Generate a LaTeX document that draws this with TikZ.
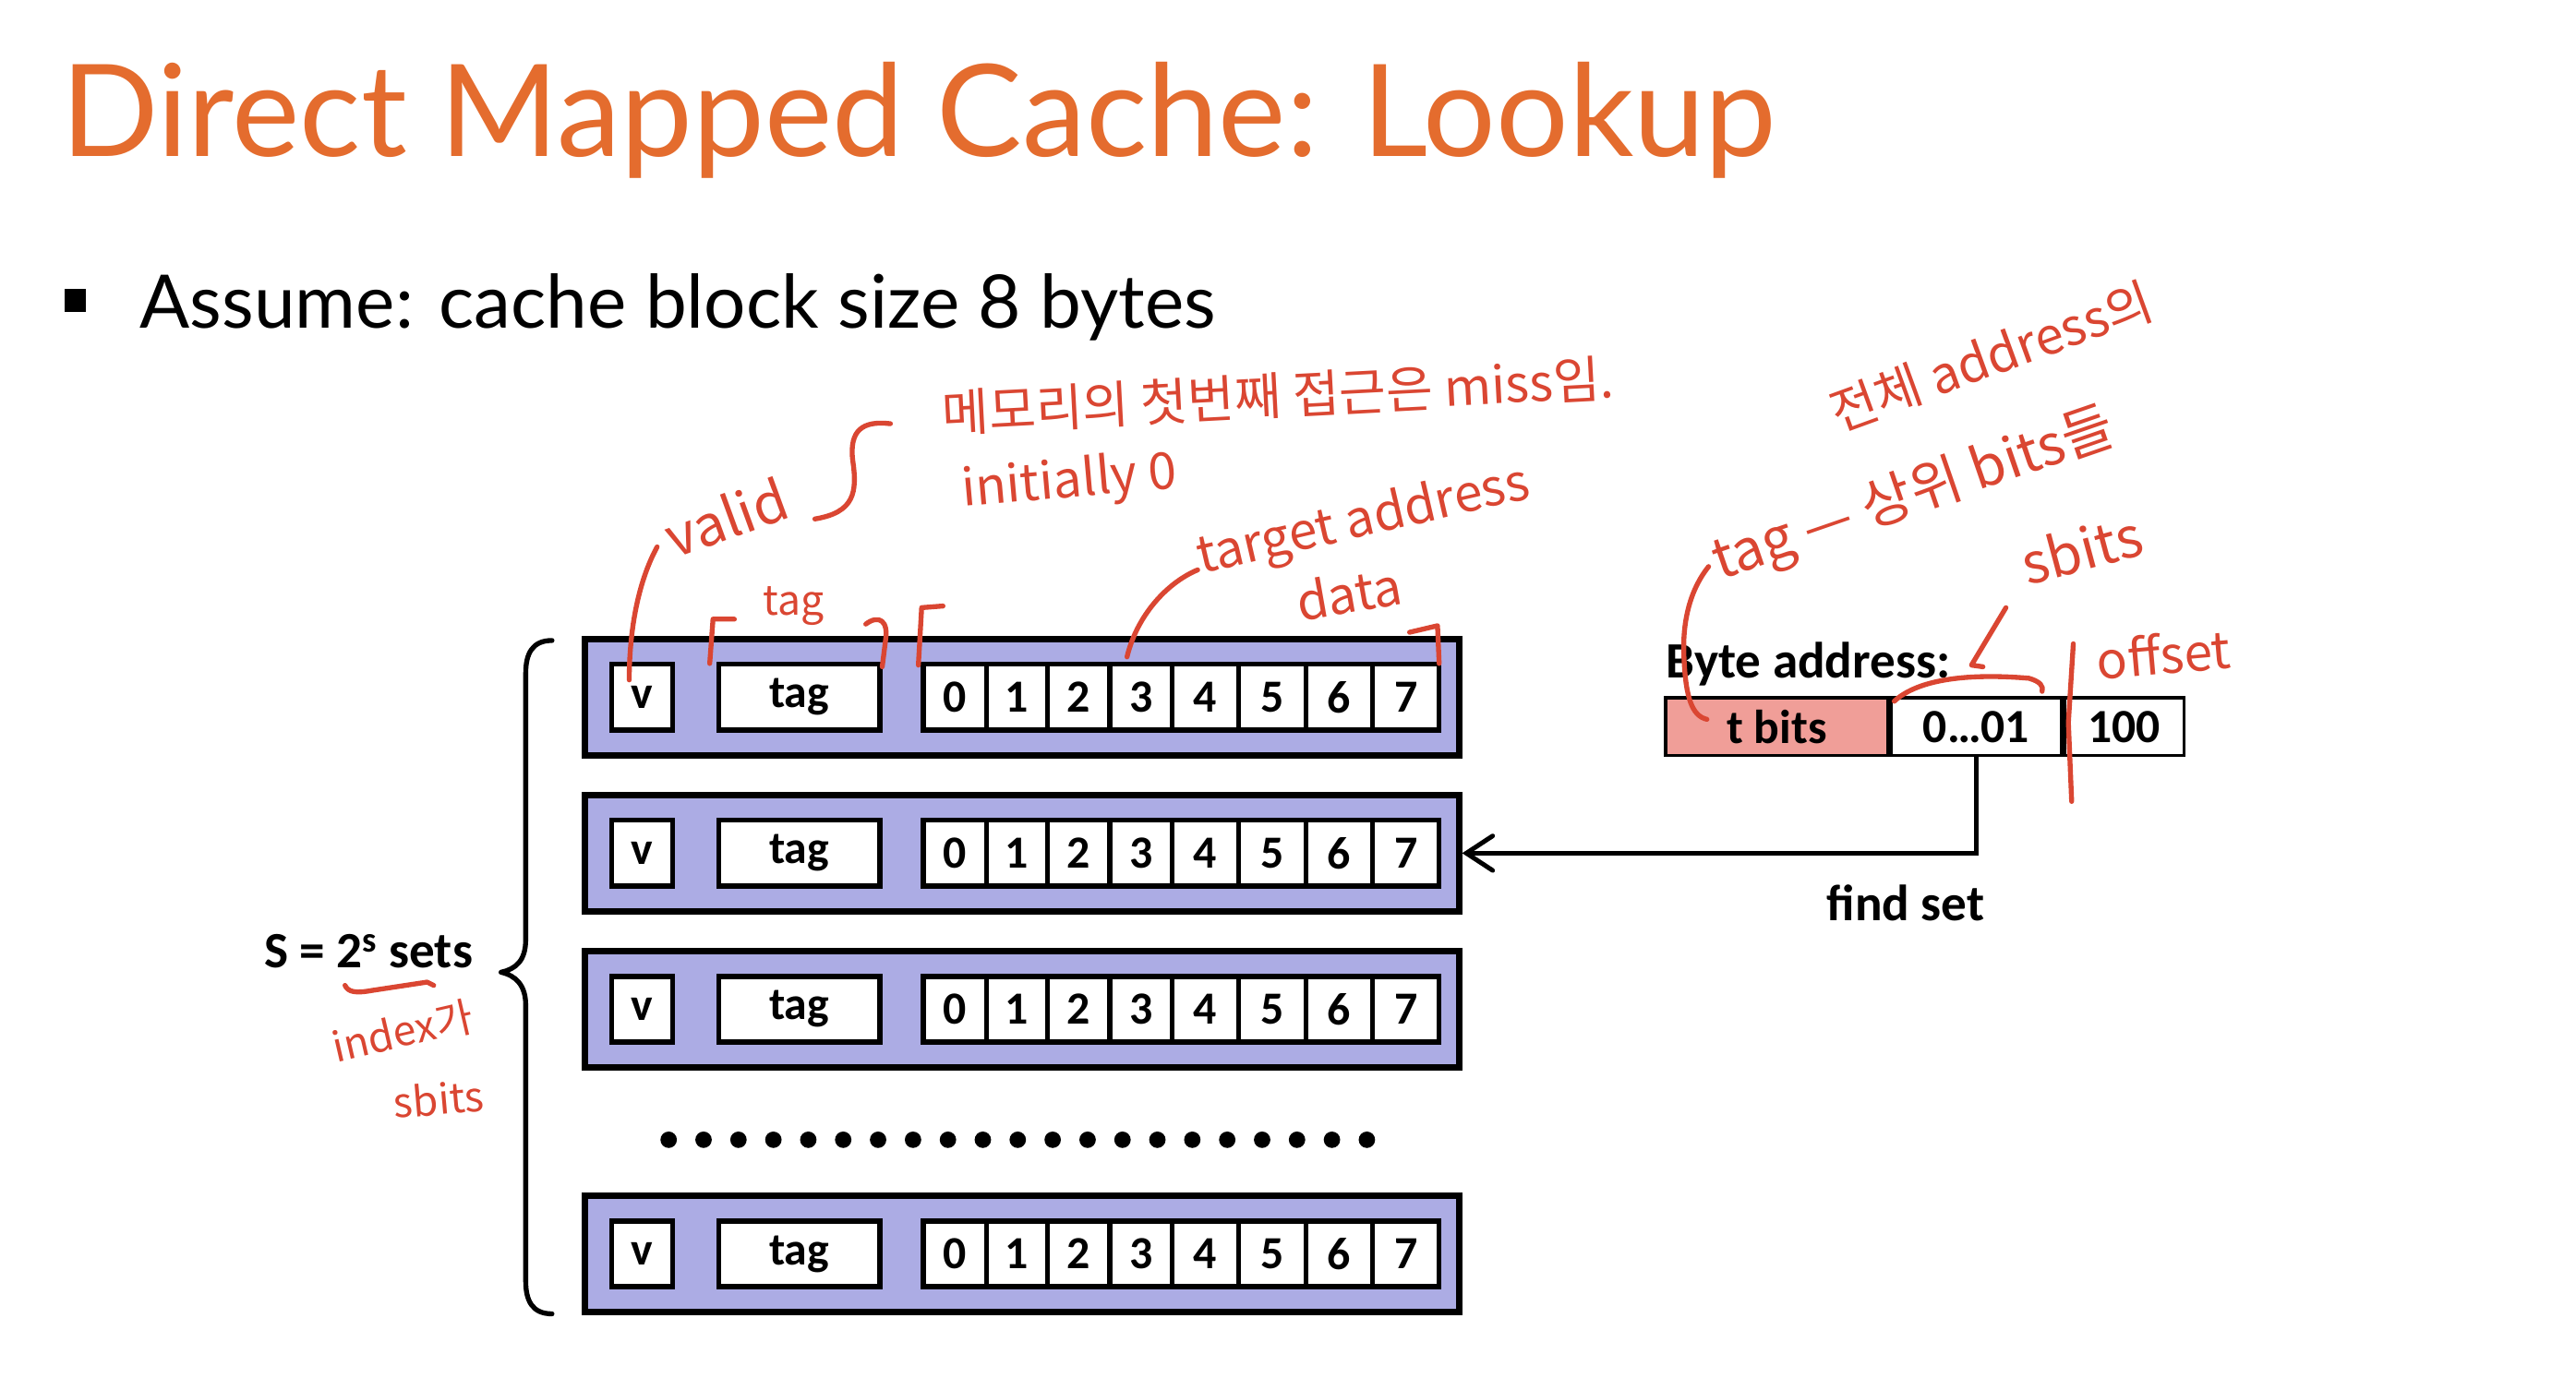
\documentclass[tikz,border=0pt]{standalone}
\usepackage{fontspec}
\usetikzlibrary{arrows.meta}
\newfontfamily\titlefont{Lato}
\newfontfamily\calfont{Carlito}
\newfontfamily\handfont{Noto Sans CJK KR}
\definecolor{titleorange}{RGB}{228,108,46}
\definecolor{lav}{RGB}{172,172,228}
\definecolor{tpink}{RGB}{240,158,152}
\definecolor{inkred}{RGB}{218,70,50}
\begin{document}
\begin{tikzpicture}[x=1pt,y=-1pt,
  rowbox/.style={draw=black, line width=4pt, fill=lav, minimum width=532pt, minimum height=71pt, inner sep=0pt},
  cellbox/.style={draw=black, line width=3pt, fill=white, minimum height=40pt, inner sep=0pt, font=\calfont\bfseries\fontsize{28}{32}\selectfont},
  seg/.style={draw=black, line width=2pt, minimum height=35pt, inner sep=0pt, font=\calfont\bfseries\fontsize{29}{33}\selectfont},
  lbl/.style={font=\calfont\bfseries\fontsize{31}{35}\selectfont, inner sep=0pt},
  inkline/.style={draw=inkred, line width=3pt, line cap=round, line join=round},
  hand/.style={text=inkred, font=\handfont\fontsize{31}{35}\selectfont, inner sep=0pt},
  handbig/.style={text=inkred, font=\handfont\fontsize{34}{38}\selectfont, inner sep=0pt},
  handsmall/.style={text=inkred, font=\handfont\fontsize{25}{29}\selectfont, inner sep=0pt},
]
\fill[white] (0,0) rectangle (1568,846);
\useasboundingbox (0,0) rectangle (1568,846);

% title and bullet
\node[anchor=base west, inner sep=0pt, text=titleorange, font=\titlefont\fontsize{78}{88}\selectfont] (title) at (37,95)
  {Direct Mapped Cache: Lookup};
\node[fill=black, minimum width=13pt, minimum height=14pt, inner sep=0pt] (bullet) at (46,183) {};
\node[anchor=base west, inner sep=0pt, font=\titlefont\fontsize{45}{51}\selectfont] (assume) at (85,200)
  {Assume: cache block size 8 bytes};

% cache rows
\foreach \r/\t in {1/387,2/482,3/577,4/726}{
  \node[rowbox] (row\r) at (622,\t+37.5) {};
  \node[cellbox, minimum width=37pt] (v\r) at (391,\t+37.5) {v};
  \node[cellbox, minimum width=98pt] (tag\r) at (486.5,\t+37.5) {tag};
  \foreach \i/\a/\b in {0/562/600.5,1/600.5/637.5,2/637.5/675.5,3/675.5/713.5,4/713.5/754,5/754/795,6/795/835.5,7/835.5/876}{
    \node[cellbox, minimum width={(\b-\a)*1pt}] (d\r\i) at ({(\a+\b)/2},\t+37.5) {\i};
  }
}
\foreach \k in {0,...,20} \fill ({407+\k*21.25},694) circle (5pt);

% brace
\draw[line width=3pt, line cap=round, line join=round]
  (336,390) .. controls (324,390) and (320,398) .. (320,410) -- (320,572)
  .. controls (320,585) and (314,590) .. (305,592)
  .. controls (314,594) and (320,600) .. (320,612) -- (320,780)
  .. controls (320,792) and (324,800) .. (336,800);
\node[lbl, anchor=base east] (sets) at (288,589) {S = 2\textsuperscript{s} sets};

% byte address
\node[seg, fill=tpink, minimum width=135pt] (tbits) at (1081.5,442.5) {t bits};
\node[seg, fill=white, minimum width=104pt] (sidx) at (1203,442.5) {0…01};
\node[seg, fill=white, minimum width=73pt] (soff) at (1293,442.5) {100};
\node[lbl, anchor=base west] (baddr) at (1014,413) {Byte address:};
\draw[line width=2.8pt, -{Straight Barb[length=16pt,width=21pt,line width=2.8pt,line cap=round]}] (sidx.south) |- (row2.east);
\node[lbl] (findset) at (1160,550) {find set};

% handwritten annotations
\node[handbig, rotate=20] (hvalid) at (442,315) {valid};
\draw[inkline] (400,333) .. controls (388,355) and (383,385) .. (383,414);
\draw[inkline] (496,316) .. controls (520,312) and (522,300) .. (519,280) .. controls (517,262) and (525,256) .. (542,258);
\node[hand, rotate=3] (hmem) at (778,241) {메모리의 첫번째 접근은 miss임.};
\node[hand, rotate=5] (hinit) at (651,294) {initially 0};
\node[hand, rotate=13] (htarget) at (830,318) {target address};
\node[hand, rotate=10] (hdata) at (821,361) {data};
\draw[inkline] (686,400) .. controls (692,375) and (710,355) .. (729,347);
\draw[inkline] (432,404) -- (434,377) -- (447,377);
\node[handsmall] (htag) at (483,369) {tag};
\draw[inkline] (527,380) .. controls (535,374) and (541,378) .. (539,390) -- (537,406);
\draw[inkline] (559,405) -- (561,370) -- (574,369);
\draw[inkline] (858,385) -- (875,381) -- (876,404);

\node[hand, rotate=20] (hwhole) at (1212,217) {전체 address의};
\node[handbig, rotate=19] (htag2) at (1165,302) {tag — 상위 bits들};
\node[handbig, rotate=15] (hsbits) at (1267,334) {sbits};
\draw[inkline] (1221,370) -- (1200,405) -- (1207,406);
\draw[inkline] (1153,427) .. controls (1168,413) and (1200,410) .. (1235,413) .. controls (1242,415) and (1244,418) .. (1243,421);
\draw[inkline] (1262,392) -- (1259,440) -- (1261,488);
\node[hand, rotate=5] (hoffset) at (1317,398) {offset};
\draw[inkline] (1040,345) .. controls (1028,360) and (1024,380) .. (1025,400) .. controls (1026,425) and (1030,436) .. (1039,438);

\node[handsmall, rotate=13] (hindex) at (245,628) {index가};
\draw[inkline] (210,600) .. controls (212,604) and (216,605) .. (227,603) -- (260,598) -- (264,600);
\node[handsmall, rotate=5] (hsbits2) at (267,669) {sbits};
\end{tikzpicture}
\end{document}
